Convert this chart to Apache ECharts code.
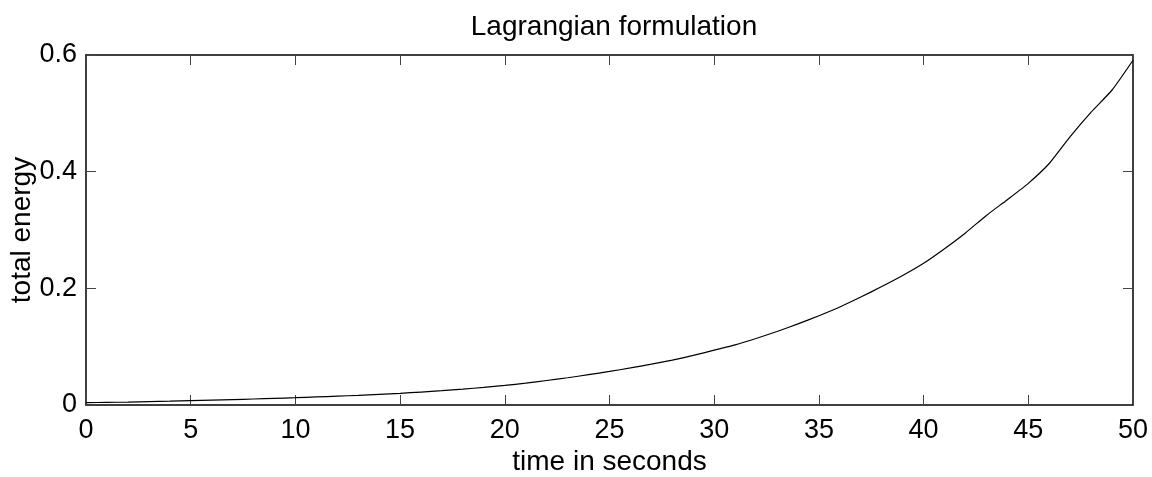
<!DOCTYPE html>
<html>
<head>
<meta charset="utf-8">
<script src="https://cdn.jsdelivr.net/npm/echarts@6/dist/echarts.min.js"></script>
<style>
  html, body { margin: 0; padding: 0; background: #fff; }
  #chart { width: 1152px; height: 477px; }
</style>
</head>
<body>
<div id="chart"></div>
<script>
// Time samples (seconds)
const timeSeconds = [
  0, 1, 2, 3, 4, 5, 6, 7, 8, 9,
  10, 11, 12, 13, 14, 15, 16, 17, 18, 19,
  20, 21, 22, 23, 24, 25, 26, 27, 28, 29,
  30, 31, 32, 33, 34, 35, 36, 37, 38, 39,
  40, 41, 42, 43, 44, 45, 46, 47, 48, 49, 50
];
// Total energy at each time sample
const totalEnergy = [
  0.0040, 0.0045, 0.0050, 0.0057, 0.0065, 0.0074, 0.0083, 0.0093, 0.0103, 0.0114,
  0.0125, 0.0138, 0.0152, 0.0166, 0.0182, 0.0200, 0.0222, 0.0246, 0.0272, 0.0302,
  0.0335, 0.0375, 0.0420, 0.0467, 0.0520, 0.0575, 0.0635, 0.0700, 0.0770, 0.0850,
  0.0940, 0.1030, 0.1140, 0.1260, 0.1390, 0.1530, 0.1680, 0.1850, 0.2030, 0.2220,
  0.2430, 0.2680, 0.2950, 0.3250, 0.3520, 0.3800, 0.4140, 0.4600, 0.5020, 0.5400,
  0.5910
];
const xTicks = { min: 0, max: 50, interval: 5 };
const yTicks = { min: 0, max: 0.6, interval: 0.2 };

const font = 'Liberation Sans, Arial, Helvetica, sans-serif';
const fs = 28;      // title and axis names
const tickFs = 27;  // tick labels

const chart = echarts.init(document.getElementById('chart'), null, { renderer: 'canvas' });

const points = timeSeconds.map((t, i) => [t, totalEnergy[i]]);

const tickStyle = { show: true, inside: true, length: 10, lineStyle: { color: '#444', width: 1 } };
const lineStyle = { show: true, onZero: false, lineStyle: { color: '#000', width: 1.5 } };

chart.setOption({
  animation: false,
  backgroundColor: '#fff',
  title: {
    text: 'Lagrangian formulation',
    left: 609, top: 8, textAlign: 'center',
    textStyle: { fontFamily: font, fontSize: fs, fontWeight: 'normal', color: '#000' }
  },
  grid: { left: 86, right: 19, top: 55, bottom: 72, show: false, containLabel: false, outerBoundsMode: 'none' },
  xAxis: [
    {
      type: 'value', position: 'bottom', ...xTicks,
      axisLine: lineStyle, axisTick: tickStyle, splitLine: { show: false },
      axisLabel: { fontFamily: font, fontSize: tickFs, color: '#000', margin: 12 },
      name: 'time in seconds', nameLocation: 'middle', nameGap: 43, nameMoveOverlap: false,
      nameTextStyle: { fontFamily: font, fontSize: fs, color: '#000' }
    },
    {
      type: 'value', position: 'top', ...xTicks,
      axisLine: lineStyle, axisTick: tickStyle, splitLine: { show: false },
      axisLabel: { show: false }
    }
  ],
  yAxis: [
    {
      type: 'value', position: 'left', ...yTicks,
      axisLine: lineStyle, axisTick: tickStyle, splitLine: { show: false },
      axisLabel: {
        fontFamily: font, fontSize: tickFs, color: '#000', margin: 9,
        formatter: v => (Math.round(v * 10) / 10).toString()
      },
      name: 'total energy', nameLocation: 'middle', nameGap: 50, nameRotate: 90, nameMoveOverlap: false,
      nameTextStyle: { fontFamily: font, fontSize: fs, color: '#000' }
    },
    {
      type: 'value', position: 'right', ...yTicks,
      axisLine: lineStyle, axisTick: tickStyle, splitLine: { show: false },
      axisLabel: { show: false }
    }
  ],
  series: [
    {
      type: 'line', data: points, xAxisIndex: 0, yAxisIndex: 0,
      showSymbol: false, smooth: 0.2,
      lineStyle: { color: '#000', width: 1.2 }
    }
  ]
});
</script>
</body>
</html>
